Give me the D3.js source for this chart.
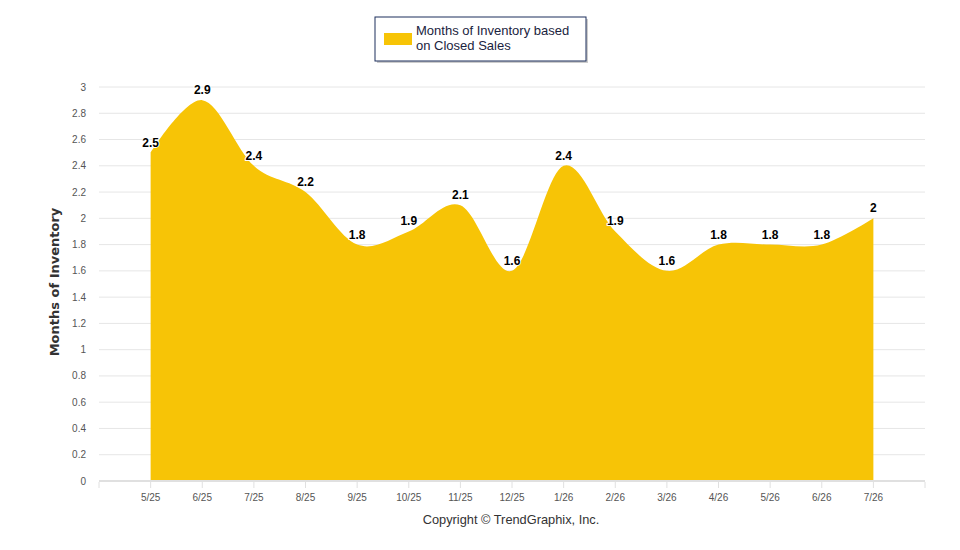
<!DOCTYPE html>
<html>
<head>
<meta charset="utf-8">
<script src="https://cdn.jsdelivr.net/npm/d3@7"></script>
<style>
  body { margin: 0; background: #fff; }
  svg { display: block; font-family: "Liberation Sans", Arial, sans-serif; }
</style>
</head>
<body>
<div id="chart"></div>
<script>
const months = ['5/25', '6/25', '7/25', '8/25', '9/25', '10/25', '11/25', '12/25',
                '1/26', '2/26', '3/26', '4/26', '5/26', '6/26', '7/26'];
const inventory = [2.5, 2.9, 2.4, 2.2, 1.8, 1.9, 2.1, 1.6, 2.4, 1.9, 1.6, 1.8, 1.8, 1.8, 2];
const yTicks = [0, 0.2, 0.4, 0.6, 0.8, 1, 1.2, 1.4, 1.6, 1.8, 2, 2.2, 2.4, 2.6, 2.8, 3];
const seriesName = ['Months of Inventory based', 'on Closed Sales'];

const WIDTH = 960, HEIGHT = 550;
const MARGIN = {top: 87, right: 35, bottom: 69, left: 99};
const FILL = '#f7c406';

const svg = d3.select('#chart').append('svg')
  .attr('width', WIDTH)
  .attr('height', HEIGHT);

const w = WIDTH - MARGIN.left - MARGIN.right;
const h = HEIGHT - MARGIN.top - MARGIN.bottom;

const g = svg.append('g')
  .attr('transform', `translate(${MARGIN.left}, ${MARGIN.top})`);

const x = d3.scalePoint().domain(months).range([0, w]).padding(1);
const y = d3.scaleLinear().domain([0, 3]).range([h, 0]);

// grid
g.append('g')
  .selectAll('line')
  .data(yTicks.slice(1))
  .join('line')
  .attr('x1', 0).attr('x2', w)
  .attr('y1', d => y(d)).attr('y2', d => y(d))
  .attr('stroke', '#e6e6e6');

// y labels
g.append('g')
  .selectAll('text')
  .data(yTicks)
  .join('text')
  .attr('x', -13)
  .attr('y', d => y(d) + 3.5)
  .attr('text-anchor', 'end')
  .attr('font-size', 10)
  .attr('fill', '#555')
  .text(d => d);

// area
const area = d3.area()
  .x((d, i) => x(months[i]))
  .y0(y(0))
  .y1(d => y(d))
  .curve(d3.curveCardinal.tension(0));

g.append('path')
  .datum(inventory)
  .attr('d', area)
  .attr('fill', FILL);

// x axis
const xAxis = g.append('g').attr('transform', `translate(0, ${h})`);
xAxis.append('line')
  .attr('x1', 0).attr('x2', w)
  .attr('stroke', '#e0e0e0').attr('stroke-width', 2);
xAxis.selectAll('.tick')
  .data([0, w].concat(months.map(m => x(m))))
  .join('line')
  .attr('x1', d => d).attr('x2', d => d)
  .attr('y1', 1).attr('y2', 7)
  .attr('stroke', '#e0e0e0');
xAxis.selectAll('text')
  .data(months)
  .join('text')
  .attr('x', d => x(d))
  .attr('y', 20)
  .attr('text-anchor', 'middle')
  .attr('font-size', 10)
  .attr('fill', '#555')
  .text(d => d);

// data labels
g.append('g')
  .selectAll('text')
  .data(months)
  .join('text')
  .attr('x', d => x(d))
  .attr('y', (d, i) => y(inventory[i]) - 6)
  .attr('text-anchor', 'middle')
  .attr('font-size', 12)
  .attr('font-weight', 'bold')
  .attr('fill', '#000')
  .attr('stroke', '#fff')
  .attr('stroke-width', 2)
  .attr('stroke-linejoin', 'round')
  .attr('paint-order', 'stroke')
  .text((d, i) => inventory[i]);

// y title
svg.append('text')
  .attr('transform', `translate(59, ${MARGIN.top + h / 2 - 2}) rotate(-90)`)
  .attr('text-anchor', 'middle')
  .attr('font-family', '"DejaVu Sans", Verdana, sans-serif')
  .attr('font-size', 13)
  .attr('font-weight', 'bold')
  .attr('fill', '#333')
  .text('Months of Inventory');

// legend
const legend = svg.append('g').attr('transform', 'translate(375, 17)');
legend.append('rect')
  .attr('x', 2).attr('y', 2)
  .attr('width', 211).attr('height', 44)
  .attr('fill', '#999').attr('opacity', 0.5);
legend.append('rect')
  .attr('width', 211).attr('height', 44)
  .attr('fill', '#fff')
  .attr('stroke', '#1c2f5c');
legend.append('rect')
  .attr('x', 9).attr('y', 16)
  .attr('width', 28).attr('height', 12)
  .attr('fill', FILL);
legend.selectAll('.lt')
  .data(seriesName)
  .join('text')
  .attr('x', 41)
  .attr('y', (d, i) => 18 + i * 15)
  .attr('font-size', 13)
  .attr('fill', '#1a2340')
  .text(d => d);

// copyright
svg.append('text')
  .attr('x', 511).attr('y', 524)
  .attr('text-anchor', 'middle')
  .attr('font-size', 12.8)
  .attr('fill', '#333')
  .text('Copyright \u00a9 TrendGraphix, Inc.');
</script>
</body>
</html>
